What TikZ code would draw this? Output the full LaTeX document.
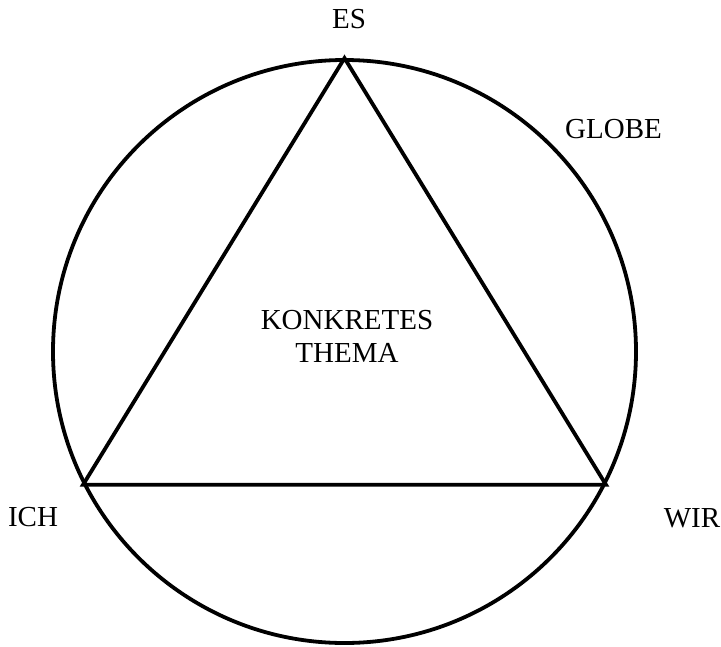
\documentclass[tikz,border=0pt]{standalone}
\usepackage{fontspec}
\setmainfont{Liberation Serif}
\usetikzlibrary{positioning}

\tikzset{
  lbl/.style={font=\fontsize{29}{33}\selectfont,inner sep=0pt,align=center},
  edge/.style={line width=3.8pt,line join=miter}
}

\begin{document}
\begin{tikzpicture}[x=1pt,y=-1pt]
  \useasboundingbox (0,0) rectangle (721,646);

  % Globe
  \node[draw,circle,line width=3.8pt,minimum size=583pt,inner sep=0pt] (globe) at (344.5,351.5) {};

  % Triangle corners on the globe
  \coordinate (es) at (globe.90.5);
  \coordinate (ich) at (globe.207.5);
  \coordinate (wir) at (globe.-27.5);
  \draw[edge] (es) -- (ich) -- (wir) -- cycle;

  % Labels
  \node[lbl] (esl) at (349,19) {ES};
  \node[lbl] (globel) at (613.5,129) {GLOBE};
  \node[lbl] (ichl) at (33,517) {ICH};
  \node[lbl] (wirl) at (692,518.5) {WIR};
  \node[lbl] (thema) at (347,336) {KONKRETES\\THEMA};
\end{tikzpicture}
\end{document}
